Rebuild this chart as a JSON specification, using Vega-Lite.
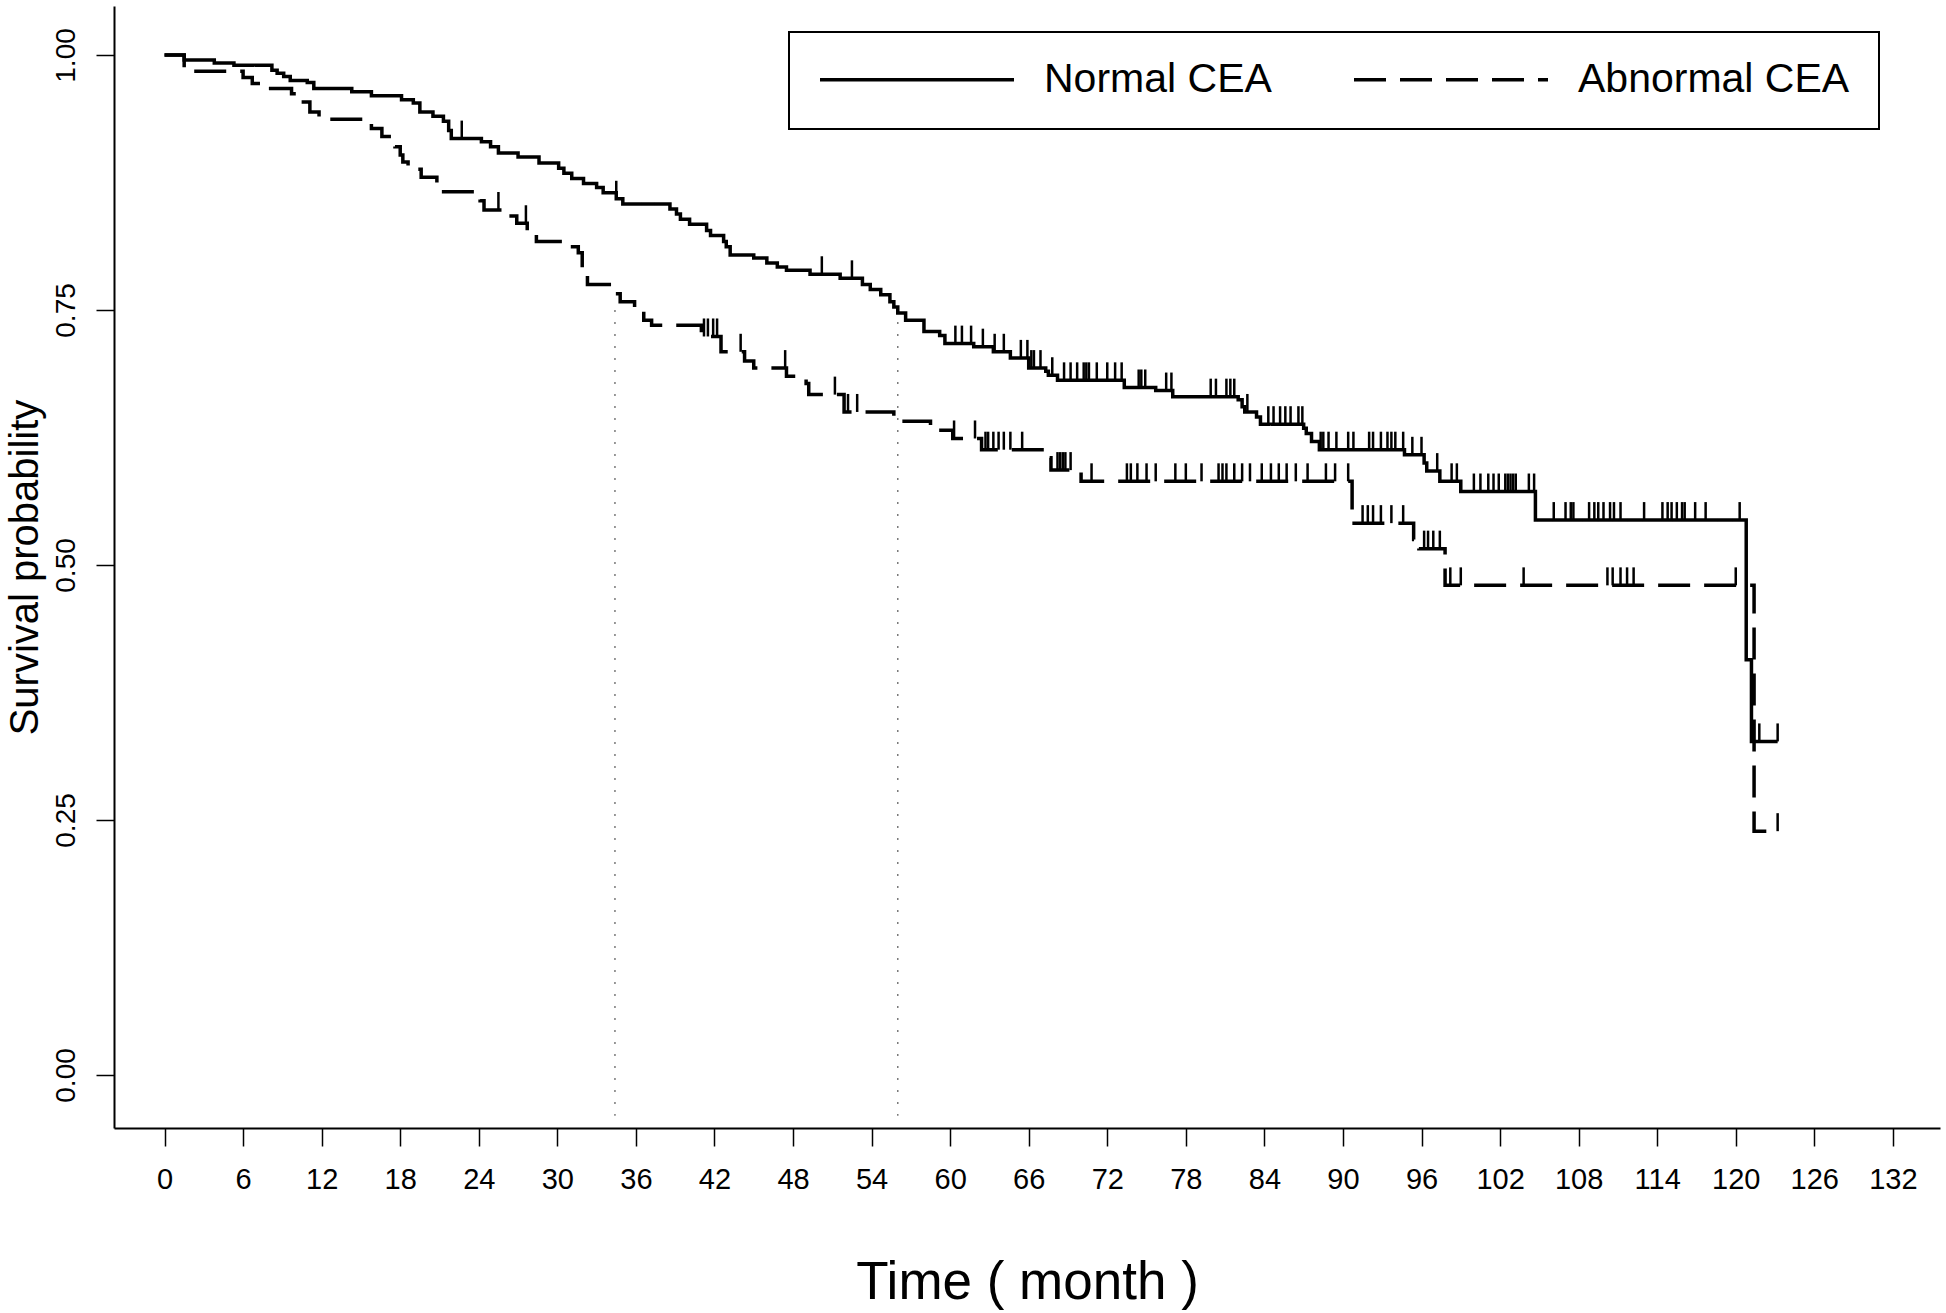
{
  "$schema": "https://vega.github.io/schema/vega-lite/v6.json",
  "width": 1826,
  "height": 1122,
  "autosize": {"type": "none"},
  "padding": {"left": 114, "top": 6, "right": 6, "bottom": 185},
  "background": "white",
  "config": {
    "view": {"stroke": null},
    "font": "Liberation Sans",
    "legend": {"strokeWidth": 2},
    "axis": {"grid": false, "domainColor": "black", "domainWidth": 2, "tickColor": "black", "tickWidth": 1.5, "tickSize": 18, "labelColor": "black", "titleColor": "black", "titleFontWeight": "normal", "labelFont": "Liberation Sans", "titleFont": "Liberation Sans", "labelOverlap": false, "labelFlush": false}
  },
  "datasets": {
    "steps": [
      {"group": "Normal CEA", "time": 0, "surv": 1.0},
      {"group": "Normal CEA", "time": 1.5, "surv": 0.995},
      {"group": "Normal CEA", "time": 3.8, "surv": 0.992},
      {"group": "Normal CEA", "time": 5.3, "surv": 0.99},
      {"group": "Normal CEA", "time": 8.2, "surv": 0.985},
      {"group": "Normal CEA", "time": 8.6, "surv": 0.982},
      {"group": "Normal CEA", "time": 9.1, "surv": 0.979},
      {"group": "Normal CEA", "time": 9.6, "surv": 0.975},
      {"group": "Normal CEA", "time": 10.9, "surv": 0.973},
      {"group": "Normal CEA", "time": 11.4, "surv": 0.967},
      {"group": "Normal CEA", "time": 14.3, "surv": 0.964},
      {"group": "Normal CEA", "time": 15.8, "surv": 0.96},
      {"group": "Normal CEA", "time": 18.1, "surv": 0.956},
      {"group": "Normal CEA", "time": 19.0, "surv": 0.953},
      {"group": "Normal CEA", "time": 19.5, "surv": 0.944},
      {"group": "Normal CEA", "time": 20.5, "surv": 0.94},
      {"group": "Normal CEA", "time": 21.3, "surv": 0.935},
      {"group": "Normal CEA", "time": 21.7, "surv": 0.926},
      {"group": "Normal CEA", "time": 21.9, "surv": 0.918},
      {"group": "Normal CEA", "time": 24.2, "surv": 0.915},
      {"group": "Normal CEA", "time": 24.9, "surv": 0.91},
      {"group": "Normal CEA", "time": 25.5, "surv": 0.904},
      {"group": "Normal CEA", "time": 27.0, "surv": 0.9},
      {"group": "Normal CEA", "time": 28.6, "surv": 0.894},
      {"group": "Normal CEA", "time": 30.1, "surv": 0.889},
      {"group": "Normal CEA", "time": 30.5, "surv": 0.884},
      {"group": "Normal CEA", "time": 31.1, "surv": 0.879},
      {"group": "Normal CEA", "time": 32.0, "surv": 0.874},
      {"group": "Normal CEA", "time": 33.0, "surv": 0.87},
      {"group": "Normal CEA", "time": 33.5, "surv": 0.865},
      {"group": "Normal CEA", "time": 34.5, "surv": 0.859},
      {"group": "Normal CEA", "time": 35.0, "surv": 0.854},
      {"group": "Normal CEA", "time": 38.6, "surv": 0.849},
      {"group": "Normal CEA", "time": 39.1, "surv": 0.844},
      {"group": "Normal CEA", "time": 39.4, "surv": 0.839},
      {"group": "Normal CEA", "time": 40.1, "surv": 0.834},
      {"group": "Normal CEA", "time": 41.4, "surv": 0.828},
      {"group": "Normal CEA", "time": 41.7, "surv": 0.823},
      {"group": "Normal CEA", "time": 42.7, "surv": 0.817},
      {"group": "Normal CEA", "time": 42.9, "surv": 0.812},
      {"group": "Normal CEA", "time": 43.2, "surv": 0.804},
      {"group": "Normal CEA", "time": 45.0, "surv": 0.801},
      {"group": "Normal CEA", "time": 46.0, "surv": 0.796},
      {"group": "Normal CEA", "time": 46.8, "surv": 0.792},
      {"group": "Normal CEA", "time": 47.5, "surv": 0.789},
      {"group": "Normal CEA", "time": 49.3, "surv": 0.785},
      {"group": "Normal CEA", "time": 51.6, "surv": 0.781},
      {"group": "Normal CEA", "time": 53.3, "surv": 0.775},
      {"group": "Normal CEA", "time": 53.9, "surv": 0.77},
      {"group": "Normal CEA", "time": 54.7, "surv": 0.765},
      {"group": "Normal CEA", "time": 55.4, "surv": 0.758},
      {"group": "Normal CEA", "time": 55.7, "surv": 0.753},
      {"group": "Normal CEA", "time": 56.0, "surv": 0.747},
      {"group": "Normal CEA", "time": 56.6, "surv": 0.74},
      {"group": "Normal CEA", "time": 58.0, "surv": 0.729},
      {"group": "Normal CEA", "time": 59.2, "surv": 0.725},
      {"group": "Normal CEA", "time": 59.6, "surv": 0.717},
      {"group": "Normal CEA", "time": 61.8, "surv": 0.714},
      {"group": "Normal CEA", "time": 63.3, "surv": 0.709},
      {"group": "Normal CEA", "time": 64.6, "surv": 0.703},
      {"group": "Normal CEA", "time": 66.0, "surv": 0.693},
      {"group": "Normal CEA", "time": 67.3, "surv": 0.69},
      {"group": "Normal CEA", "time": 67.5, "surv": 0.686},
      {"group": "Normal CEA", "time": 68.2, "surv": 0.681},
      {"group": "Normal CEA", "time": 73.3, "surv": 0.674},
      {"group": "Normal CEA", "time": 75.7, "surv": 0.671},
      {"group": "Normal CEA", "time": 77.0, "surv": 0.665},
      {"group": "Normal CEA", "time": 82.0, "surv": 0.662},
      {"group": "Normal CEA", "time": 82.3, "surv": 0.655},
      {"group": "Normal CEA", "time": 82.5, "surv": 0.65},
      {"group": "Normal CEA", "time": 83.4, "surv": 0.645},
      {"group": "Normal CEA", "time": 83.7, "surv": 0.638},
      {"group": "Normal CEA", "time": 87.0, "surv": 0.634},
      {"group": "Normal CEA", "time": 87.2, "surv": 0.629},
      {"group": "Normal CEA", "time": 87.6, "surv": 0.621},
      {"group": "Normal CEA", "time": 88.2, "surv": 0.613},
      {"group": "Normal CEA", "time": 94.7, "surv": 0.608},
      {"group": "Normal CEA", "time": 96.2, "surv": 0.6},
      {"group": "Normal CEA", "time": 96.4, "surv": 0.592},
      {"group": "Normal CEA", "time": 97.4, "surv": 0.582},
      {"group": "Normal CEA", "time": 99.0, "surv": 0.572},
      {"group": "Normal CEA", "time": 104.7, "surv": 0.544},
      {"group": "Normal CEA", "time": 120.8, "surv": 0.407},
      {"group": "Normal CEA", "time": 121.2, "surv": 0.327},
      {"group": "Normal CEA", "time": 123.2, "surv": 0.327},
      {"group": "Abnormal CEA", "time": 0, "surv": 1.0},
      {"group": "Abnormal CEA", "time": 1.5, "surv": 0.984},
      {"group": "Abnormal CEA", "time": 6.0, "surv": 0.978},
      {"group": "Abnormal CEA", "time": 6.7, "surv": 0.972},
      {"group": "Abnormal CEA", "time": 7.6, "surv": 0.967},
      {"group": "Abnormal CEA", "time": 9.7, "surv": 0.962},
      {"group": "Abnormal CEA", "time": 10.1, "surv": 0.954},
      {"group": "Abnormal CEA", "time": 11.1, "surv": 0.944},
      {"group": "Abnormal CEA", "time": 11.8, "surv": 0.937},
      {"group": "Abnormal CEA", "time": 15.8, "surv": 0.928},
      {"group": "Abnormal CEA", "time": 16.6, "surv": 0.92},
      {"group": "Abnormal CEA", "time": 17.6, "surv": 0.91},
      {"group": "Abnormal CEA", "time": 18.0, "surv": 0.902},
      {"group": "Abnormal CEA", "time": 18.2, "surv": 0.895},
      {"group": "Abnormal CEA", "time": 18.6, "surv": 0.888},
      {"group": "Abnormal CEA", "time": 19.6, "surv": 0.88},
      {"group": "Abnormal CEA", "time": 20.8, "surv": 0.866},
      {"group": "Abnormal CEA", "time": 24.1, "surv": 0.857},
      {"group": "Abnormal CEA", "time": 24.4, "surv": 0.848},
      {"group": "Abnormal CEA", "time": 25.8, "surv": 0.842},
      {"group": "Abnormal CEA", "time": 26.9, "surv": 0.835},
      {"group": "Abnormal CEA", "time": 27.7, "surv": 0.826},
      {"group": "Abnormal CEA", "time": 28.4, "surv": 0.817},
      {"group": "Abnormal CEA", "time": 30.8, "surv": 0.812},
      {"group": "Abnormal CEA", "time": 31.6, "surv": 0.806},
      {"group": "Abnormal CEA", "time": 31.9, "surv": 0.79},
      {"group": "Abnormal CEA", "time": 32.3, "surv": 0.775},
      {"group": "Abnormal CEA", "time": 34.2, "surv": 0.766},
      {"group": "Abnormal CEA", "time": 34.8, "surv": 0.758},
      {"group": "Abnormal CEA", "time": 35.9, "surv": 0.75},
      {"group": "Abnormal CEA", "time": 36.6, "surv": 0.74},
      {"group": "Abnormal CEA", "time": 37.2, "surv": 0.735},
      {"group": "Abnormal CEA", "time": 41.0, "surv": 0.724},
      {"group": "Abnormal CEA", "time": 42.5, "surv": 0.709},
      {"group": "Abnormal CEA", "time": 44.3, "surv": 0.7},
      {"group": "Abnormal CEA", "time": 45.0, "surv": 0.693},
      {"group": "Abnormal CEA", "time": 47.5, "surv": 0.685},
      {"group": "Abnormal CEA", "time": 49.0, "surv": 0.678},
      {"group": "Abnormal CEA", "time": 49.2, "surv": 0.667},
      {"group": "Abnormal CEA", "time": 51.9, "surv": 0.65},
      {"group": "Abnormal CEA", "time": 55.7, "surv": 0.641},
      {"group": "Abnormal CEA", "time": 58.5, "surv": 0.632},
      {"group": "Abnormal CEA", "time": 60.2, "surv": 0.624},
      {"group": "Abnormal CEA", "time": 62.4, "surv": 0.613},
      {"group": "Abnormal CEA", "time": 67.3, "surv": 0.605},
      {"group": "Abnormal CEA", "time": 67.7, "surv": 0.593},
      {"group": "Abnormal CEA", "time": 70.0, "surv": 0.582},
      {"group": "Abnormal CEA", "time": 90.7, "surv": 0.541},
      {"group": "Abnormal CEA", "time": 95.4, "surv": 0.525},
      {"group": "Abnormal CEA", "time": 95.8, "surv": 0.516},
      {"group": "Abnormal CEA", "time": 97.8, "surv": 0.48},
      {"group": "Abnormal CEA", "time": 121.4, "surv": 0.239},
      {"group": "Abnormal CEA", "time": 123.2, "surv": 0.239}
    ],
    "censor": [
      {"group": "Normal CEA", "time": 22.7, "surv": 0.918},
      {"group": "Normal CEA", "time": 34.5, "surv": 0.859},
      {"group": "Normal CEA", "time": 50.2, "surv": 0.785},
      {"group": "Normal CEA", "time": 52.5, "surv": 0.781},
      {"group": "Normal CEA", "time": 60.4, "surv": 0.717},
      {"group": "Normal CEA", "time": 60.9, "surv": 0.717},
      {"group": "Normal CEA", "time": 61.6, "surv": 0.717},
      {"group": "Normal CEA", "time": 62.5, "surv": 0.714},
      {"group": "Normal CEA", "time": 63.4, "surv": 0.709},
      {"group": "Normal CEA", "time": 64.1, "surv": 0.709},
      {"group": "Normal CEA", "time": 65.4, "surv": 0.703},
      {"group": "Normal CEA", "time": 65.9, "surv": 0.703},
      {"group": "Normal CEA", "time": 66.2, "surv": 0.693},
      {"group": "Normal CEA", "time": 66.4, "surv": 0.693},
      {"group": "Normal CEA", "time": 66.9, "surv": 0.693},
      {"group": "Normal CEA", "time": 67.8, "surv": 0.686},
      {"group": "Normal CEA", "time": 68.7, "surv": 0.681},
      {"group": "Normal CEA", "time": 69.2, "surv": 0.681},
      {"group": "Normal CEA", "time": 69.7, "surv": 0.681},
      {"group": "Normal CEA", "time": 70.2, "surv": 0.681},
      {"group": "Normal CEA", "time": 70.4, "surv": 0.681},
      {"group": "Normal CEA", "time": 70.6, "surv": 0.681},
      {"group": "Normal CEA", "time": 71.2, "surv": 0.681},
      {"group": "Normal CEA", "time": 72.0, "surv": 0.681},
      {"group": "Normal CEA", "time": 72.6, "surv": 0.681},
      {"group": "Normal CEA", "time": 73.1, "surv": 0.681},
      {"group": "Normal CEA", "time": 74.4, "surv": 0.674},
      {"group": "Normal CEA", "time": 74.6, "surv": 0.674},
      {"group": "Normal CEA", "time": 74.9, "surv": 0.674},
      {"group": "Normal CEA", "time": 76.5, "surv": 0.671},
      {"group": "Normal CEA", "time": 76.9, "surv": 0.671},
      {"group": "Normal CEA", "time": 79.9, "surv": 0.665},
      {"group": "Normal CEA", "time": 80.3, "surv": 0.665},
      {"group": "Normal CEA", "time": 81.1, "surv": 0.665},
      {"group": "Normal CEA", "time": 81.4, "surv": 0.665},
      {"group": "Normal CEA", "time": 81.7, "surv": 0.665},
      {"group": "Normal CEA", "time": 82.7, "surv": 0.65},
      {"group": "Normal CEA", "time": 84.3, "surv": 0.638},
      {"group": "Normal CEA", "time": 84.7, "surv": 0.638},
      {"group": "Normal CEA", "time": 85.2, "surv": 0.638},
      {"group": "Normal CEA", "time": 85.6, "surv": 0.638},
      {"group": "Normal CEA", "time": 86.0, "surv": 0.638},
      {"group": "Normal CEA", "time": 86.6, "surv": 0.638},
      {"group": "Normal CEA", "time": 86.9, "surv": 0.638},
      {"group": "Normal CEA", "time": 88.3, "surv": 0.613},
      {"group": "Normal CEA", "time": 88.5, "surv": 0.613},
      {"group": "Normal CEA", "time": 88.9, "surv": 0.613},
      {"group": "Normal CEA", "time": 89.5, "surv": 0.613},
      {"group": "Normal CEA", "time": 90.4, "surv": 0.613},
      {"group": "Normal CEA", "time": 90.8, "surv": 0.613},
      {"group": "Normal CEA", "time": 92.0, "surv": 0.613},
      {"group": "Normal CEA", "time": 92.3, "surv": 0.613},
      {"group": "Normal CEA", "time": 92.9, "surv": 0.613},
      {"group": "Normal CEA", "time": 93.4, "surv": 0.613},
      {"group": "Normal CEA", "time": 93.7, "surv": 0.613},
      {"group": "Normal CEA", "time": 94.0, "surv": 0.613},
      {"group": "Normal CEA", "time": 94.6, "surv": 0.613},
      {"group": "Normal CEA", "time": 95.3, "surv": 0.608},
      {"group": "Normal CEA", "time": 96.0, "surv": 0.608},
      {"group": "Normal CEA", "time": 97.2, "surv": 0.592},
      {"group": "Normal CEA", "time": 98.3, "surv": 0.582},
      {"group": "Normal CEA", "time": 98.7, "surv": 0.582},
      {"group": "Normal CEA", "time": 100.0, "surv": 0.572},
      {"group": "Normal CEA", "time": 100.5, "surv": 0.572},
      {"group": "Normal CEA", "time": 101.1, "surv": 0.572},
      {"group": "Normal CEA", "time": 101.5, "surv": 0.572},
      {"group": "Normal CEA", "time": 101.9, "surv": 0.572},
      {"group": "Normal CEA", "time": 102.4, "surv": 0.572},
      {"group": "Normal CEA", "time": 102.6, "surv": 0.572},
      {"group": "Normal CEA", "time": 102.8, "surv": 0.572},
      {"group": "Normal CEA", "time": 103.0, "surv": 0.572},
      {"group": "Normal CEA", "time": 103.2, "surv": 0.572},
      {"group": "Normal CEA", "time": 104.2, "surv": 0.572},
      {"group": "Normal CEA", "time": 104.6, "surv": 0.572},
      {"group": "Normal CEA", "time": 106.1, "surv": 0.544},
      {"group": "Normal CEA", "time": 107.0, "surv": 0.544},
      {"group": "Normal CEA", "time": 107.4, "surv": 0.544},
      {"group": "Normal CEA", "time": 107.6, "surv": 0.544},
      {"group": "Normal CEA", "time": 108.8, "surv": 0.544},
      {"group": "Normal CEA", "time": 109.2, "surv": 0.544},
      {"group": "Normal CEA", "time": 109.5, "surv": 0.544},
      {"group": "Normal CEA", "time": 109.9, "surv": 0.544},
      {"group": "Normal CEA", "time": 110.4, "surv": 0.544},
      {"group": "Normal CEA", "time": 110.7, "surv": 0.544},
      {"group": "Normal CEA", "time": 111.2, "surv": 0.544},
      {"group": "Normal CEA", "time": 113.0, "surv": 0.544},
      {"group": "Normal CEA", "time": 114.4, "surv": 0.544},
      {"group": "Normal CEA", "time": 114.8, "surv": 0.544},
      {"group": "Normal CEA", "time": 115.1, "surv": 0.544},
      {"group": "Normal CEA", "time": 115.5, "surv": 0.544},
      {"group": "Normal CEA", "time": 115.9, "surv": 0.544},
      {"group": "Normal CEA", "time": 116.1, "surv": 0.544},
      {"group": "Normal CEA", "time": 116.9, "surv": 0.544},
      {"group": "Normal CEA", "time": 117.7, "surv": 0.544},
      {"group": "Normal CEA", "time": 120.3, "surv": 0.544},
      {"group": "Normal CEA", "time": 121.8, "surv": 0.327},
      {"group": "Normal CEA", "time": 123.2, "surv": 0.327},
      {"group": "Abnormal CEA", "time": 25.5, "surv": 0.848},
      {"group": "Abnormal CEA", "time": 27.6, "surv": 0.835},
      {"group": "Abnormal CEA", "time": 41.2, "surv": 0.724},
      {"group": "Abnormal CEA", "time": 41.5, "surv": 0.724},
      {"group": "Abnormal CEA", "time": 41.9, "surv": 0.724},
      {"group": "Abnormal CEA", "time": 42.2, "surv": 0.724},
      {"group": "Abnormal CEA", "time": 44.0, "surv": 0.709},
      {"group": "Abnormal CEA", "time": 47.4, "surv": 0.693},
      {"group": "Abnormal CEA", "time": 51.2, "surv": 0.667},
      {"group": "Abnormal CEA", "time": 52.2, "surv": 0.65},
      {"group": "Abnormal CEA", "time": 52.9, "surv": 0.65},
      {"group": "Abnormal CEA", "time": 60.3, "surv": 0.624},
      {"group": "Abnormal CEA", "time": 61.9, "surv": 0.624},
      {"group": "Abnormal CEA", "time": 62.7, "surv": 0.613},
      {"group": "Abnormal CEA", "time": 62.9, "surv": 0.613},
      {"group": "Abnormal CEA", "time": 63.3, "surv": 0.613},
      {"group": "Abnormal CEA", "time": 63.7, "surv": 0.613},
      {"group": "Abnormal CEA", "time": 64.1, "surv": 0.613},
      {"group": "Abnormal CEA", "time": 64.6, "surv": 0.613},
      {"group": "Abnormal CEA", "time": 65.5, "surv": 0.613},
      {"group": "Abnormal CEA", "time": 68.2, "surv": 0.593},
      {"group": "Abnormal CEA", "time": 68.4, "surv": 0.593},
      {"group": "Abnormal CEA", "time": 68.6, "surv": 0.593},
      {"group": "Abnormal CEA", "time": 68.8, "surv": 0.593},
      {"group": "Abnormal CEA", "time": 69.2, "surv": 0.593},
      {"group": "Abnormal CEA", "time": 70.8, "surv": 0.582},
      {"group": "Abnormal CEA", "time": 73.5, "surv": 0.582},
      {"group": "Abnormal CEA", "time": 73.8, "surv": 0.582},
      {"group": "Abnormal CEA", "time": 74.3, "surv": 0.582},
      {"group": "Abnormal CEA", "time": 75.0, "surv": 0.582},
      {"group": "Abnormal CEA", "time": 75.7, "surv": 0.582},
      {"group": "Abnormal CEA", "time": 77.2, "surv": 0.582},
      {"group": "Abnormal CEA", "time": 78.0, "surv": 0.582},
      {"group": "Abnormal CEA", "time": 79.2, "surv": 0.582},
      {"group": "Abnormal CEA", "time": 80.5, "surv": 0.582},
      {"group": "Abnormal CEA", "time": 80.8, "surv": 0.582},
      {"group": "Abnormal CEA", "time": 81.1, "surv": 0.582},
      {"group": "Abnormal CEA", "time": 81.7, "surv": 0.582},
      {"group": "Abnormal CEA", "time": 82.3, "surv": 0.582},
      {"group": "Abnormal CEA", "time": 82.9, "surv": 0.582},
      {"group": "Abnormal CEA", "time": 83.8, "surv": 0.582},
      {"group": "Abnormal CEA", "time": 84.5, "surv": 0.582},
      {"group": "Abnormal CEA", "time": 85.1, "surv": 0.582},
      {"group": "Abnormal CEA", "time": 85.7, "surv": 0.582},
      {"group": "Abnormal CEA", "time": 86.4, "surv": 0.582},
      {"group": "Abnormal CEA", "time": 87.3, "surv": 0.582},
      {"group": "Abnormal CEA", "time": 88.7, "surv": 0.582},
      {"group": "Abnormal CEA", "time": 89.4, "surv": 0.582},
      {"group": "Abnormal CEA", "time": 90.4, "surv": 0.582},
      {"group": "Abnormal CEA", "time": 91.5, "surv": 0.541},
      {"group": "Abnormal CEA", "time": 91.9, "surv": 0.541},
      {"group": "Abnormal CEA", "time": 92.3, "surv": 0.541},
      {"group": "Abnormal CEA", "time": 92.9, "surv": 0.541},
      {"group": "Abnormal CEA", "time": 93.7, "surv": 0.541},
      {"group": "Abnormal CEA", "time": 94.6, "surv": 0.541},
      {"group": "Abnormal CEA", "time": 96.2, "surv": 0.516},
      {"group": "Abnormal CEA", "time": 96.5, "surv": 0.516},
      {"group": "Abnormal CEA", "time": 96.9, "surv": 0.516},
      {"group": "Abnormal CEA", "time": 97.4, "surv": 0.516},
      {"group": "Abnormal CEA", "time": 98.2, "surv": 0.48},
      {"group": "Abnormal CEA", "time": 99.0, "surv": 0.48},
      {"group": "Abnormal CEA", "time": 103.8, "surv": 0.48},
      {"group": "Abnormal CEA", "time": 110.2, "surv": 0.48},
      {"group": "Abnormal CEA", "time": 110.6, "surv": 0.48},
      {"group": "Abnormal CEA", "time": 111.2, "surv": 0.48},
      {"group": "Abnormal CEA", "time": 111.7, "surv": 0.48},
      {"group": "Abnormal CEA", "time": 112.2, "surv": 0.48},
      {"group": "Abnormal CEA", "time": 120.0, "surv": 0.48},
      {"group": "Abnormal CEA", "time": 123.2, "surv": 0.239}
    ],
    "q75": [
      {"group": "Abnormal CEA", "time": 34.4, "surv": 0.75},
      {"group": "Normal CEA", "time": 56.0, "surv": 0.75}
    ]
  },
  "layer": [
    {
      "data": {"name": "q75"},
      "mark": {"type": "rule", "color": "#7a7a7a", "strokeWidth": 1.5, "strokeDash": [2, 10]},
      "encoding": {
        "x": {"field": "time", "type": "quantitative",
          "scale": {"domain": [-3.86, 135.6], "nice": false, "zero": false},
          "axis": {"values": [0, 6, 12, 18, 24, 30, 36, 42, 48, 54, 60, 66, 72, 78, 84, 90, 96, 102, 108, 114, 120, 126, 132], "title": "Time ( month )", "titleFontSize": 53, "titlePadding": 62, "labelFontSize": 29, "labelPadding": 19}},
        "y": {"field": "surv", "type": "quantitative",
          "scale": {"domain": [-0.052, 1.048], "nice": false, "zero": false},
          "axis": {"values": [0, 0.25, 0.5, 0.75, 1], "format": ".2f", "title": "Survival probability", "titleFontSize": 40, "titlePadding": 7, "labelFontSize": 28, "labelAngle": -90, "labelAlign": "center", "labelBaseline": "bottom", "labelPadding": 16}},
        "y2": {"datum": -0.04}
      }
    },
    {
      "data": {"name": "steps"},
      "mark": {"type": "line", "interpolate": "step-after", "color": "black", "strokeWidth": 3.5, "strokeCap": "butt"},
      "encoding": {
        "x": {"field": "time", "type": "quantitative"},
        "y": {"field": "surv", "type": "quantitative"},
        "strokeDash": {"field": "group", "type": "nominal",
          "scale": {"domain": ["Normal CEA", "Abnormal CEA"], "range": [[1, 0], [32, 14]]},
          "legend": {"orient": "none", "legendX": 675, "legendY": 26, "direction": "horizontal", "title": null, "symbolType": "stroke", "symbolSize": 37636, "symbolStrokeWidth": 3.5, "symbolStrokeColor": "black", "labelFontSize": 41, "labelColor": "black", "labelFont": "Liberation Sans", "labelLimit": 500, "labelOffset": 28, "columnPadding": 80, "padding": 29, "strokeColor": "black", "fillColor": "white", "clipHeight": 37, "cornerRadius": 0}}
      }
    },
    {
      "data": {"name": "censor"},
      "mark": {"type": "tick", "orient": "vertical", "color": "black", "thickness": 2.5, "size": 18, "yOffset": -9, "opacity": 1},
      "encoding": {
        "x": {"field": "time", "type": "quantitative"},
        "y": {"field": "surv", "type": "quantitative"}
      }
    }
  ]
}
